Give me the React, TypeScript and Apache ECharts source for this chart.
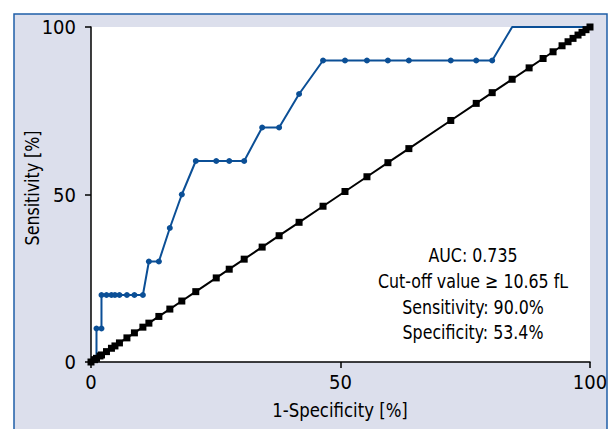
import React, { useEffect, useRef } from "react";
import * as echarts from "echarts";

// ROC curve: 1-specificity (%) and sensitivity (%)
const rocFpr = [0, 1.1, 1.1, 2.1, 2.1, 3.1, 4.1, 4.8, 5.7, 7.2, 8.7, 10.4, 11.6, 13.6, 15.8, 18.2, 21.0, 25.1, 27.7, 30.7, 34.3, 37.7, 41.7, 46.5, 50.9, 55.3, 59.5, 63.7, 72.1, 77.2, 80.4, 84.4, 100];
const rocTpr = [0, 0, 10, 10, 20, 20, 20, 20, 20, 20, 20, 20, 30, 30, 40, 50, 60, 60, 60, 60, 70, 70, 80, 90, 90, 90, 90, 90, 90, 90, 90, 100, 100];
// points without a visible marker
const rocHidden = [0, 1, 31, 32];

// reference (chance) line points
const refPoints = [0, 0.7, 1.1, 1.8, 2.1, 3.1, 4.1, 4.8, 5.7, 7.2, 8.7, 10.4, 11.6, 13.6, 15.8, 18.2, 21.0, 25.1, 27.7, 30.7, 34.3, 37.7, 41.7, 46.5, 50.9, 55.3, 59.5, 63.7, 72.1, 77.2, 80.4, 84.4, 87.8, 90.6, 92.6, 94.4, 95.6, 96.6, 97.6, 98.4, 99.2, 100];

const xTicks = [0, 50, 100];
const yTicks = [0, 50, 100];

const xName = "1-Specificity [%]";
const yName = "Sensitivity [%]";
const annotation = ["AUC: 0.735", "Cut-off value \u2265 10.65 fL", "Sensitivity: 90.0%", "Specificity: 53.4%"];

const FONT = "'Liberation Sans Narrow', 'Arial Narrow', 'DejaVu Sans Condensed', sans-serif";

export default function App() {
  const ref = useRef<HTMLDivElement>(null);
  useEffect(() => {
    document.body.style.margin = "0";
    const chart = echarts.init(ref.current!, null, { renderer: "svg" });
    const rocData = rocFpr.map((x, i) =>
      rocHidden.includes(i) ? { value: [x, rocTpr[i]], symbol: "none" } : { value: [x, rocTpr[i]] }
    );
    const refData = refPoints.map((v) => [v, v]);
    const axisCommon = {
      min: 0,
      max: 100,
      interval: 50,
      axisLine: { show: true, lineStyle: { color: "#000", width: 1.5 } },
      axisTick: { show: true, length: 6, inside: false, lineStyle: { color: "#000", width: 1.5 } },
      splitLine: { show: false },
      axisLabel: { color: "#000", fontSize: 20, fontFamily: FONT },
      nameTextStyle: { color: "#000", fontSize: 20, fontFamily: FONT },
    };
    chart.setOption({
      animation: false,
      backgroundColor: "#fff",
      graphic: [
        {
          type: "rect",
          z: -10,
          silent: true,
          shape: { x: 14, y: 14, width: 593, height: 430 },
          style: { fill: "#dcdfec", stroke: "#1f5fa8", lineWidth: 1.5 },
        },
        ...annotation.map((t, i) => ({
          type: "text",
          x: 473,
          y: [255, 281, 307, 332][i],
          scaleX: 0.88,
          z: 100,
          style: {
            text: t,
            fill: "#000",
            font: `20px ${FONT}`,
            textAlign: "center",
            textVerticalAlign: "middle",
          },
        })),
        {
          type: "text",
          x: 340,
          y: 410,
          scaleX: 0.92,
          z: 100,
          style: {
            text: xName,
            fill: "#000",
            font: `20px ${FONT}`,
            textAlign: "center",
            textVerticalAlign: "middle",
          },
        },
        {
          type: "text",
          x: 32,
          y: 188,
          rotation: Math.PI / 2,
          scaleX: 0.88,
          z: 100,
          style: {
            text: yName,
            fill: "#000",
            font: `20px ${FONT}`,
            textAlign: "center",
            textVerticalAlign: "middle",
          },
        },
      ],
      grid: {
        left: 91,
        top: 27,
        right: 22,
        bottom: 67,
        show: true,
        backgroundColor: "#fff",
        borderWidth: 0,
        containLabel: false,
        outerBoundsMode: "none",
      },
      xAxis: {
        type: "value",
        ...axisCommon,
        axisLabel: { ...axisCommon.axisLabel, margin: 10, customValues: xTicks },
      },
      yAxis: {
        type: "value",
        ...axisCommon,
        axisLabel: { ...axisCommon.axisLabel, margin: 15, customValues: yTicks },
      },
      series: [
        {
          type: "line",
          data: rocData,
          symbol: "circle",
          symbolSize: 6,
          showSymbol: true,
          lineStyle: { color: "#0b4f96", width: 2 },
          itemStyle: { color: "#0b4f96" },
          z: 2,
        },
        {
          type: "line",
          data: refData,
          symbol: "rect",
          symbolSize: 7,
          lineStyle: { color: "#000", width: 2 },
          itemStyle: { color: "#000" },
          z: 3,
        },
      ],
    });
    return () => chart.dispose();
  }, []);
  return <div ref={ref} style={{ width: 612, height: 429 }} />;
}
